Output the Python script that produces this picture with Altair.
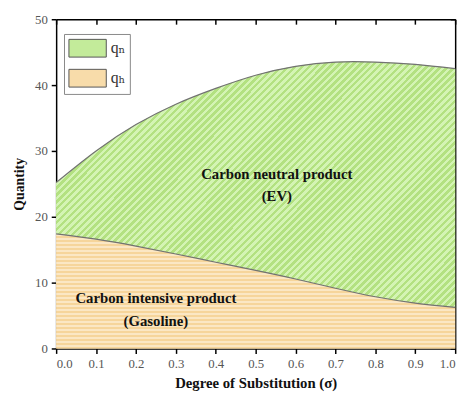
import altair as alt
import pandas as pd

# ---- data ----
sigma = [0.0, 0.1, 0.2, 0.3, 0.4, 0.5, 0.6, 0.7, 0.8, 0.9, 1.0]
q_h = [17.4, 16.6, 15.55, 14.35, 13.1, 11.85, 10.55, 9.15, 7.85, 6.9, 6.25]
q_top = [25.2, 30.0, 34.0, 37.1, 39.5, 41.5, 42.85, 43.5, 43.5, 43.15, 42.5]

legend_names = ["qₙ", "qₕ"]
legend_colors = ["#c3eb9a", "#f8dcaa"]

label_text = ["Carbon neutral product", "(EV)", "Carbon intensive product", "(Gasoline)"]
label_x = [0.553, 0.553, 0.25, 0.25]
label_y = [26.5, 23.1, 7.6, 4.2]

x_ticks = [0.0, 0.1, 0.2, 0.3, 0.4, 0.5, 0.6, 0.7, 0.8, 0.9, 1.0]
y_ticks = [0, 10, 20, 30, 40, 50]

df = pd.DataFrame({"sigma": sigma, "q_h": q_h, "q_top": q_top,
                   "s_h": [legend_names[1]] * len(sigma),
                   "s_n": [legend_names[0]] * len(sigma)})
labels = pd.DataFrame({"text": label_text, "x": label_x, "y": label_y})

W, H = 406, 335
FONT = "Liberation Serif"
INTERP = "natural"


def stripes(n, on, off, x2, y2, duty=0.5):
    stops = []
    for i in range(n):
        a, b, c = i / n, (i + duty) / n, (i + 1) / n
        stops += [
            {"offset": a, "color": on},
            {"offset": b, "color": on},
            {"offset": b, "color": off},
            {"offset": c, "color": off},
        ]
    return {"gradient": "linear", "x1": 0, "y1": 0, "x2": x2, "y2": y2, "stops": stops}


# hatch geometry for the green band (45 degree stripes, ~5px period)
g_h = (max(q_top) - min(q_h)) * H / 50.0
g_a = g_h / W
g_k = (1 + g_a) / (1 + g_a * g_a)
g_n = int(round((W + g_h) / 2 ** 0.5 / 5.0))
o_n = int(round(max(q_h) * H / 50.0 / 4.0))

xscale = alt.Scale(domain=[0, 1], nice=False, padding=0)
yscale = alt.Scale(domain=[0, 50], nice=False)
cscale = alt.Scale(domain=legend_names, range=legend_colors)

main_x = alt.Axis(values=x_ticks, format=".1f", title="Degree of Substitution (σ)",
                  titleFontSize=15, titlePadding=6, labelPadding=4,
                  labelFont=FONT, labelFontSize=13)
main_y = alt.Axis(values=y_ticks, title="Quantity", titleFontSize=14,
                  titlePadding=8, labelPadding=4, labelFont=FONT, labelFontSize=13)
mirror_x = alt.Axis(values=x_ticks, orient="bottom", offset=-H, labels=False,
                    title=None, tickSize=5)
mirror_y = alt.Axis(values=y_ticks, orient="left", offset=-W, labels=False,
                    title=None, tickSize=5)

legend = alt.Legend(
    orient="none", legendX=8, legendY=15, title=None,
    symbolType="M-1,-0.95H3V0.95H-1Z", symbolSize=361,
    symbolStrokeColor="#555", symbolStrokeWidth=1, symbolOpacity=1,
    labelFont="Liberation Serif, DejaVu Serif, serif", labelFontSize=16,
    labelColor="#333", labelOffset=23,
    strokeColor="#888", fillColor="white", padding=4.5, rowPadding=6.5,
)

base = alt.Chart(df)

orange = base.mark_area(opacity=1, interpolate=INTERP).encode(
    x=alt.X("sigma:Q", scale=xscale, axis=main_x),
    y=alt.Y("q_h:Q", scale=yscale, axis=main_y),
    color=alt.Color("s_h:N", scale=cscale, legend=legend),
)

green = base.mark_area(opacity=1, interpolate=INTERP).encode(
    x=alt.X("sigma:Q", scale=xscale, axis=None),
    y=alt.Y("q_top:Q", scale=yscale, axis=None),
    y2="q_h:Q",
    color=alt.Color("s_n:N", scale=cscale, legend=legend),
)

green_hatch = base.mark_area(
    interpolate=INTERP,
    fill=stripes(g_n, "#b3e181", "#d4f4b4", g_k, g_k * g_a),
).encode(
    x=alt.X("sigma:Q", scale=xscale, axis=None),
    y=alt.Y("q_top:Q", scale=yscale, axis=None),
    y2="q_h:Q",
)

orange_hatch = base.mark_area(
    interpolate=INTERP,
    fill=stripes(o_n, "#fbe7c4", "#f6d59b", 0, 1),
).encode(
    x=alt.X("sigma:Q", scale=xscale, axis=None),
    y=alt.Y("q_h:Q", scale=yscale, axis=None),
)

line_top = base.mark_line(color="#727272", strokeWidth=1.2, interpolate=INTERP).encode(
    x=alt.X("sigma:Q", scale=xscale, axis=mirror_x),
    y=alt.Y("q_top:Q", scale=yscale, axis=mirror_y),
)

line_mid = base.mark_line(color="#727272", strokeWidth=1.2, interpolate=INTERP).encode(
    x=alt.X("sigma:Q", scale=xscale, axis=None),
    y=alt.Y("q_h:Q", scale=yscale, axis=None),
)

text = alt.Chart(labels).mark_text(
    font=FONT, fontSize=15, fontWeight="bold", color="#111"
).encode(
    x=alt.X("x:Q", scale=xscale, axis=None),
    y=alt.Y("y:Q", scale=yscale, axis=None),
    text="text:N",
)

chart = (
    alt.layer(orange, green, orange_hatch, green_hatch, line_mid, line_top, text)
    .resolve_axis(x="independent", y="independent")
    .properties(
        width=W, height=H,
        autosize=alt.AutoSizeParams(type="none"),
        padding={"left": 49, "top": 8, "right": 10, "bottom": 50},
    )
    .configure_view(strokeWidth=0)
    .configure_axis(
        labelFont=FONT, labelFontSize=13, labelColor="#555",
        titleFont=FONT, titleFontWeight="bold", titleColor="#111",
        domainColor="#000", domainWidth=1.5, tickColor="#000", tickWidth=1.5,
        tickSize=5, grid=False,
    )
)

chart.save("out.html", embed_options={"renderer": "svg", "actions": False})
